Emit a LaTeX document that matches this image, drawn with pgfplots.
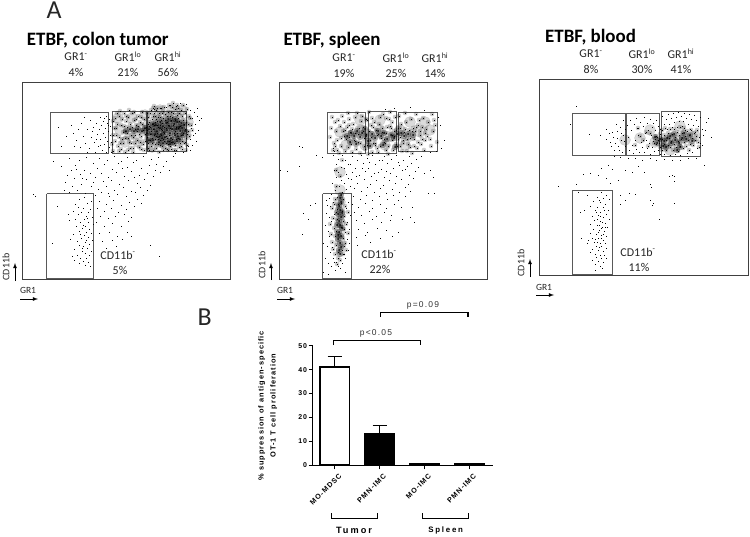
\documentclass[border=0pt]{standalone}
\usepackage{pgfplots}
\pgfplotsset{compat=1.18}
\usepackage{fontspec}
\setmainfont{Carlito}
\newfontfamily\barf[LetterSpace=14]{Liberation Sans}
\newfontfamily\barw[LetterSpace=22]{Liberation Sans}
\newcommand\fs[1]{\fontsize{#1}{#1}\selectfont}
\pgfdeclareplotmark{midblob}{\pgfsetfillopacity{0.2}\pgfpathcircle{\pgfpointorigin}{2.3bp}\pgfusepathqfill
 \pgfsetfillopacity{1}\pgfpathrectangle{\pgfpoint{-0.35bp}{-0.35bp}}{\pgfpoint{0.7bp}{0.7bp}}\pgfusepathqfill}
\pgfdeclareplotmark{coreblob}{\pgfsetfillopacity{0.35}\pgfpathcircle{\pgfpointorigin}{3.2bp}\pgfusepathqfill
 \pgfsetfillopacity{1}\pgfpathcircle{\pgfpointorigin}{1bp}\pgfusepathqfill}
\pgfplotsset{
 flow/.style={scale only axis,y dir=reverse,axis line style={draw=black!75,line width=0.9bp},
   xtick=\empty,ytick=\empty,clip=true},
 gate/.style={draw=black!65,line width=0.9bp,no marks,forget plot,sharp plot},
 dots/.style={only marks,mark=square*,mark size=0.3bp,mark options={draw=none,fill=black},forget plot},
 midd/.style={only marks,mark=midblob,mark options={draw=none,fill=black},forget plot},
 core/.style={only marks,mark=coreblob,mark options={draw=none,fill=black},forget plot},
 halo/.style={only marks,mark=*,mark size=5.5bp,mark options={draw=none,fill=black,opacity=0.14},forget plot}
}
\tikzset{lbl/.style={inner sep=0pt,text=black!85,font=\fs{12}}}
\begin{document}
\begin{tikzpicture}[x=1bp,y=-1bp]
\useasboundingbox (0,0) rectangle (750,537);
% panel 1
\begin{axis}[flow,anchor=north west,at={(22.7,82)},width=207.6bp,height=197bp,xmin=22.7,xmax=230.3,ymin=82,ymax=279]
\addplot[halo] coordinates {(120,130)(130,135)(140,128)(125,142)(138,142)(148,125)(150,138)(158,120)(160,132)(168,118)(170,130)(178,118)(180,130)(188,122)(162,143)(175,141)(152,147)(186,135)(118,118)(132,118)(145,115)(172,110)(160,110)(182,110)(155,128)(165,125)(175,125)};
\addplot[dots] coordinates {(84,197)(79,199)(91,201)(75,204)(87,203)(83,208)(90,209)(73,211)(81,212)(86,216)(78,214)(92,217)(84,219)(69,220)(88,222)(80,222)(93,224)(76,226)(85,226)(82,228)(89,229)(91,233)(86,232)(79,231)(73,234)(84,235)(88,237)(81,238)(92,240)(77,241)(85,242)(89,244)(83,246)(79,245)(87,248)(74,249)(91,251)(82,251)(85,253)(89,255)(77,255)(80,258)(86,258)(83,261)(74,260)(88,262)(79,263)(85,265)(90,266)(57,206)(33,194)(35,196)(52,243)(68,214)(70,239)(72,256)(75,219)(88,212)(83,225)(87,218)(80,234)(86,240)(82,248)(78,207)
(53,161)(61,166)(69,158)(79,160)(86,157)(93,163)(99,158)(107,160)(114,156)(121,161)(127,157)(136,160)(143,156)(151,159)(158,157)(166,161)(173,156)(75,165)(84,170)(97,168)(104,164)(112,169)(118,163)(127,167)(133,162)(141,168)(149,165)(155,170)(163,166)(169,170)(71,170)(80,174)(90,173)(101,173)(108,177)(116,172)(124,176)(131,171)(139,175)(147,173)(153,176)(160,172)(67,175)(74,178)(86,179)(95,177)(103,181)(111,180)(119,184)(128,180)(137,183)(144,179)(150,185)(65,182)(72,186)(81,184)(91,186)(98,189)(106,186)(114,190)(123,187)(131,191)(140,187)(147,190)(69,192)(77,190)(85,193)(95,195)(101,192)(109,196)(117,194)(126,196)(135,192)(143,195)(99,201)(106,204)(113,200)(121,205)(129,202)(137,199)(97,208)(104,211)(111,208)(118,212)(126,209)(134,206)(141,203)(100,216)(108,218)(115,216)(124,214)(131,217)(96,222)(104,226)(112,223)(121,226)(128,221)(99,233)(109,232)(117,236)(127,232)(102,241)(112,240)(122,239)(131,236)(106,248)(116,246)(159,256)(150,245)(76,169)(122,168)(156,164)(93,182)(108,193)(134,177)(82,178)(64,190)
(58,127)(61,146)(71,125)(73,133)(76,140)(78,129)(81,123)(83,136)(85,143)(87,129)(89,148)(90,120)(91,137)(93,127)(94,142)(95,152)(96,123)(97,134)(98,146)(99,129)(100,117)(100,139)(101,125)(102,150)(103,133)(103,121)(104,144)(105,128)(105,137)(106,116)(106,152)(107,123)(107,141)(108,131)(109,147)(109,119)(110,126)(110,135)(111,142)(111,152)(80,147)(74,146)(66,136)(92,131)(87,152)(84,117)(96,139)(100,145)(104,118)(108,125)
(190,110)(191,128)(192,118)(193,135)(194,112)(195,124)(196,141)(197,116)(198,130)(199,120)(188,146)(190,139)(186,104)(180,103)(176,106)(170,105)(166,107)(160,108)(154,109)(192,145)(195,133)(197,108)(201,118)(190,150)(183,152)(175,153)};
\addplot[midd] coordinates {(113,121)(116,135)(112,144)(119,116)(114,128)(121,149)(117,124)(123,132)(115,141)(120,111)(125,138)(118,146)(122,119)(127,127)(113,151)(124,113)(129,142)(126,121)(116,128)(131,135)(119,137)(128,117)(133,148)(123,143)(130,124)(135,129)(125,152)(132,113)(137,140)(127,133)(134,120)(139,147)(129,110)(136,125)(141,136)(131,143)(138,116)(143,130)(133,152)(140,122)(145,141)(135,135)(142,112)(128,150)(144,119)(137,131)(121,125)(141,149)(146,127)(132,127)(117,113)(139,134)(143,144)(126,116)(135,143)(122,139)(145,134)(130,148)(138,126)(115,118)(141,117)(124,126)(134,112)(119,151)(144,150)(128,138)(136,119)(113,135)(140,142)(125,131)(133,137)(120,143)(142,124)
(147,113)(152,138)(149,122)(156,148)(151,110)(158,127)(148,143)(155,116)(161,135)(153,129)(159,152)(150,134)(163,111)(157,121)(166,143)(154,106)(168,125)(147,130)(160,117)(171,149)(164,133)(152,119)(175,109)(167,138)(158,144)(172,117)(149,150)(178,128)(162,123)(169,105)(155,139)(182,141)(174,133)(165,114)(151,146)(179,121)(170,146)(161,108)(185,113)(176,150)(148,117)(181,135)(166,128)(157,133)(173,125)(187,145)(163,150)(184,124)(154,125)(177,115)(159,113)(188,131)(168,112)(150,127)(174,143)(183,105)(164,141)(156,110)(179,147)(171,120)(186,138)(160,140)(153,150)(176,127)(190,118)(167,149)(147,137)(182,116)(162,130)(173,103)(155,122)(185,129)(169,135)(150,113)(178,138)(158,117)(188,124)(165,120)(152,143)(175,145)(181,110)(163,139)(149,126)(171,112)(186,150)(160,125)(177,133)(156,136)(184,143)(167,116)(172,139)(154,113)(180,126)(162,146)(189,136)(151,131)(168,144)(157,108)(175,120)(164,127)(182,149)(159,136)(187,109)(170,128)(153,116)(178,108)(161,120)(174,150)(166,136)(148,148)(183,133)(155,144)(172,107)(179,113)(163,118)(186,122)(169,141)(157,125)(176,139)(152,124)(181,146)(165,148)(191,125)(160,145)(173,113)(150,140)(185,142)(167,122)(158,139)(177,105)(154,135)(170,116)(183,120)(162,113)(175,131)(189,116)(164,107)(148,124)(180,143)(156,119)(171,142)(153,108)(187,134)(168,150)(161,129)(178,118)(192,130)};
\addplot[core] coordinates {(151,134)(154,129)(153,140)(157,131)(158,137)(156,125)(160,128)(161,134)(159,142)(163,126)(164,132)(162,138)(166,123)(165,137)(167,130)(168,141)(169,126)(170,133)(171,121)(172,129)(171,138)(174,124)(175,135)(173,142)(176,129)(177,122)(178,136)(179,127)(180,131)(181,123)(180,139)(182,128)(183,135)(184,125)(147,133)(149,129)(145,128)(142,131)(138,129)(134,131)(149,140)(155,134)(163,143)(175,119)(168,119)(160,122)(170,144)(177,141)(153,124)(185,131)(126,131)(130,129)};
\addplot[gate] coordinates {(50.7,112.3)(108,112.3)(108,153.3)(50.7,153.3)(50.7,112.3)};
\addplot[gate] coordinates {(112,111)(146,111)(146,153)(112,153)(112,111)};
\addplot[gate] coordinates {(147,111)(186.7,111)(186.7,151)(147,151)(147,111)};
\addplot[gate] coordinates {(46.7,193.7)(93.7,193.7)(93.7,278)(46.7,278)(46.7,193.7)};
\end{axis}
% panel 2
\begin{axis}[flow,anchor=north west,at={(279,82.3)},width=208.7bp,height=196.7bp,xmin=279,xmax=487.7,ymin=82.3,ymax=279]
\addplot[halo] coordinates {(340,132)(350,136)(360,130)(370,136)(380,130)(390,136)(400,130)(410,136)(420,132)(430,130)(346,145)(365,145)(385,145)(405,145)(360,120)(380,120)(410,122)(425,122)(340,202)(340,212)(340,222)(340,232)(340,242)(340,190)(340,172)};
\addplot[dots] coordinates {(299,146)(302,147)(316,155)(322,157)(299,166)(280,170)(287,171)(310,205)(315,203)(303,213)(308,219)(302,234)(326,213)(329,217)(325,225)(328,231)(323,243)(327,246)(330,252)(325,258)(328,263)(333,258)(331,266)(336,262)(342,263)(345,258)(348,250)(347,239)(349,229)(350,215)(346,208)(326,200)(330,206)(323,272)(335,270)(340,268)(328,274)(345,272)(331,221)(329,236)(332,247)(334,214)(347,222)(345,232)(349,243)(344,254)(334,262)(338,266)(327,205)(333,202)(348,202)(329,198)
(333,155)(338,159)(342,155)(336,164)(341,167)(345,160)(334,170)(338,172)(344,168)(348,164)(336,177)(341,180)(346,174)(332,183)(339,186)(344,183)(348,178)(335,190)(342,192)(346,189)(350,186)(331,194)(337,197)(352,156)(357,160)(361,155)(367,158)(372,155)(379,160)(384,156)(391,159)(396,155)(403,160)(409,156)(416,159)(421,156)(350,164)(355,168)(363,163)(368,168)(375,164)(381,169)(387,163)(393,168)(399,165)(405,169)(411,163)(418,167)(352,172)(359,175)(365,171)(371,176)(378,172)(384,177)(390,173)(396,176)(402,170)(409,175)(415,171)(424,173)(351,179)(357,183)(364,179)(370,184)(376,180)(383,185)(389,180)(395,183)(401,179)(408,184)(413,178)(354,188)(361,191)(367,187)(374,192)(380,188)(386,193)(392,189)(399,192)(405,187)(410,191)(430,170)(433,177)(353,196)(360,199)(366,195)(372,200)(379,196)(387,199)(393,195)(398,200)(405,196)(352,204)(358,207)(365,203)(372,208)(380,204)(386,208)(394,204)(401,207)(354,212)(361,215)(369,211)(376,216)(384,212)(391,215)(356,220)(364,223)(372,219)(381,222)(390,220)(402,219)(414,222)(358,229)(367,232)(377,228)(386,230)(398,232)(428,193)(434,193)(412,207)(356,237)(365,235)(380,238)(392,236)(410,217)(357,245)(370,242)(333,148)(334,151)(430,152)(436,151)(441,148)(444,140)(440,125)(438,117)(394,108)(385,109)(410,107)(424,110)(362,168)(374,173)(386,171)(398,162)(356,176)(369,162)(382,160)(407,166)};
\addplot[midd] coordinates {(331,128)(334,143)(330,137)(338,120)(333,150)(336,131)(341,146)(335,122)(344,136)(339,153)(342,116)(347,127)(337,140)(345,151)(349,119)(343,131)(351,144)(348,113)(353,124)(346,139)(356,149)(340,126)(355,117)(350,132)(358,142)(352,152)(361,121)(357,113)(364,146)(359,128)(366,134)(354,140)(368,154)(362,116)(371,125)(365,149)(373,143)(369,112)(376,130)(367,120)(378,152)(372,118)(381,138)(375,145)(383,114)(379,124)(386,150)(382,132)(389,119)(385,143)(391,128)(388,154)(394,136)(390,112)(397,146)(392,122)(400,128)(395,117)(402,151)(398,139)(405,113)(401,124)(408,144)(404,132)(411,119)(407,151)(413,128)(410,138)(416,114)(414,146)(418,125)(420,135)(423,118)(421,144)(426,129)(424,150)(428,122)(430,139)(432,114)(433,131)(435,125)(437,142)(427,136)(431,146)(419,120)(415,131)(412,153)(406,122)(403,140)(399,116)(396,130)(393,150)(387,127)(384,139)(380,117)(377,148)(374,122)(370,140)(363,131)(360,153)(348,147)(344,122)(337,150)(332,117)(422,127)(434,120)(425,140)(417,148)(409,130)(400,146)(392,135)(386,118)(378,134)(372,152)(366,119)(355,133)(349,125)(341,138)(335,146)
(345,130)(349,137)(352,129)(355,141)(358,134)(360,143)(363,127)(364,138)(367,145)(369,131)(371,137)(373,127)(375,143)(377,135)(380,146)(382,128)(384,142)(386,133)(388,146)(390,126)(392,140)(394,131)(396,144)(398,128)(400,137)(403,143)(405,129)(407,139)(410,147)(412,131)(414,139)(416,127)(418,142)(420,131)(422,139)(425,133)
(335,199)(338,204)(343,199)(332,208)(336,212)(345,206)(333,218)(344,216)(348,212)(330,224)(346,224)(331,234)(348,233)(332,242)(345,243)(333,249)(346,250)(335,254)(343,254)(338,258)(340,260)(337,264)(342,250)(334,228)(336,186)(340,176)(342,160)(336,170)(337,209)(343,221)(335,236)(344,229)(336,245)(343,238)(338,252)(334,204)(342,211)(337,219)(341,227)(336,231)(344,246)(341,203)};
\addplot[core] coordinates {(347,136)(351,133)(354,136)(357,131)(360,137)(362,133)(366,136)(368,141)(372,134)(375,138)(378,131)(381,136)(384,133)(387,139)(391,135)(394,138)(397,134)(401,133)(404,136)(408,134)(413,135)(356,144)(370,146)(383,145)(395,147)(350,142)(365,129)
(340,198)(341,202)(339,206)(340,210)(338,214)(341,217)(339,221)(340,225)(342,228)(339,232)(341,236)(338,239)(340,243)(341,247)(339,250)(337,225)(342,213)(338,235)(341,195)(340,254)};
\addplot[gate] coordinates {(327.3,112.3)(365.7,112.3)(365.7,153.3)(327.3,153.3)(327.3,112.3)};
\addplot[gate] coordinates {(368.3,111)(396.7,111)(396.7,153.3)(368.3,153.3)(368.3,111)};
\addplot[gate] coordinates {(398,112.3)(437.7,112.3)(437.7,151.7)(398,151.7)(398,112.3)};
\addplot[gate] coordinates {(322.7,193.7)(351.3,193.7)(351.3,278.3)(322.7,278.3)(322.7,193.7)};
\end{axis}
% panel 3
\begin{axis}[flow,anchor=north west,at={(539.3,79)},width=209bp,height=196.7bp,xmin=539.3,xmax=748.3,ymin=79,ymax=275.7]
\addplot[halo] coordinates {(625,140)(640,138)(655,142)(665,142)(675,140)(685,138)(695,136)(650,130)(680,126)(670,150)};
\addplot[dots] coordinates {(576,106)(570,124)(589,134)(600,135)(606,129)(610,142)(612,132)(614,150)(616,124)(617,138)(618,146)(620,127)(621,133)(622,152)(623,120)(624,141)(625,129)(614,156)(620,157)(628,158)(635,158)(642,160)(650,158)(656,160)(664,159)(672,160)(680,160)(688,158)(696,158)(704,165)(672,175)(669,176)(674,176)(601,168)(608,165)(612,169)(606,178)(598,175)(590,173)(583,174)(576,184)(558,186)(610,183)(618,180)(625,170)(632,172)(638,166)(644,172)(650,184)(651,187)(650,200)(652,205)(653,203)(674,203)(674,181)(659,219)(620,195)(629,193)(635,194)(620,204)(625,200)(705,130)(708,118)(702,145)(711,137)(706,122)
(601,192)(606,195)(597,197)(603,198)(609,199)(593,201)(600,202)(605,204)(590,206)(597,207)(603,207)(608,210)(595,210)(600,212)(606,214)(580,212)(592,216)(598,215)(603,217)(609,219)(594,220)(600,221)(605,223)(590,224)(597,225)(602,227)(607,227)(593,229)(599,230)(604,231)(590,233)(596,234)(601,235)(606,236)(592,238)(598,238)(603,240)(588,240)(594,242)(600,243)(605,243)(596,246)(601,246)(606,248)(592,249)(598,250)(603,251)(590,252)(595,254)(600,255)(604,255)(596,257)(601,258)(592,260)(598,261)(603,262)(595,264)(600,266)(587,243)(581,238)(584,210)(602,268)(595,270)(606,258)(599,200)(587,195)(578,192)(597,219)(601,238)(599,247)(595,239)(602,222)(598,232)(605,227)(600,216)(603,234)(597,242)(601,228)(596,212)(604,210)(599,225)};
\addplot[dots] coordinates {(606,139)(609,133)(611,146)(613,137)(615,143)(617,131)(619,150)(621,140)(623,135)(625,146)(627,125)(628,137)(629,150)(630,120)(631,130)(632,145)(633,153)(634,124)(635,140)(636,118)(636,149)(637,128)(638,135)(639,152)(640,122)(641,142)(642,147)(643,126)(644,117)(644,152)(645,133)(646,140)(647,123)(647,148)(648,130)(649,143)(650,119)(650,154)(651,135)(652,127)(652,147)(653,123)(653,141)(654,151)(655,130)(656,144)(656,120)(657,137)(658,126)(658,150)(659,143)(660,129)(660,154)
(662,116)(664,124)(664,154)(666,119)(667,129)(668,114)(669,124)(670,155)(671,118)(672,127)(673,113)(674,122)(675,154)(676,117)(677,127)(678,112)(679,121)(680,155)(681,116)(682,126)(683,121)(684,113)(685,130)(686,118)(687,153)(688,124)(689,114)(690,129)(691,119)(692,152)(693,125)(694,115)(695,132)(696,120)(697,148)(698,126)(699,137)(700,117)(700,143)(702,129)(703,135)};
\addplot[midd] coordinates {(650,133)(655,139)(654,143)(656,136)(658,140)(660,134)(660,147)(662,130)(662,139)(662,150)(664,135)(664,144)(665,128)(666,140)(666,150)(668,133)(668,145)(669,138)(670,129)(670,147)(671,141)(672,134)(673,150)(674,129)(674,144)(675,137)(676,147)(677,132)(678,141)(678,151)(679,135)(680,127)(680,146)(681,139)(682,133)(683,148)(684,128)(684,142)(685,136)(686,146)(687,131)(688,140)(689,135)(689,150)(690,144)(691,130)(692,138)(693,145)(694,133)(695,140)(696,136)(697,130)(698,142)(699,147)(640,136)(643,140)(646,132)(648,146)(638,128)(635,145)};
\addplot[core] coordinates {(660,139)(664,141)(667,138)(671,143)(675,140)(679,143)(682,138)(686,139)(690,135)(674,134)(666,147)(680,147)(670,136)(684,133)(657,143)(692,141)(677,150)(663,146)(655,137)};
\addplot[gate] coordinates {(572,113.7)(625.7,113.7)(625.7,155.3)(572,155.3)(572,113.7)};
\addplot[gate] coordinates {(626.7,113)(659,113)(659,155.3)(626.7,155.3)(626.7,113)};
\addplot[gate] coordinates {(661.3,111.3)(700.3,111.3)(700.3,156)(661.3,156)(661.3,111.3)};
\addplot[gate] coordinates {(572,190.3)(612,190.3)(612,274.7)(572,274.7)(572,190.3)};
\end{axis}
% bars
\begin{axis}[anchor=south west,at={(311.3bp,-465.3bp)},scale only axis,width=181.4bp,height=119.6bp,
  xmin=311.3,xmax=492.7,ymin=0,ymax=50,axis x line=bottom,axis y line=none,clip=false,
  xtick={334.7,379.5,424.5,469.5},xticklabels={},
  axis line style={line width=1.5bp,-},tick style={line width=1.2bp,black},major tick length=4bp,
  tick align=outside]
\addplot[ybar,bar width=29.5bp,draw=black,fill=white,line width=1.7bp,
  error bars/.cd,y dir=plus,y explicit,error bar style={line width=1.5bp},error mark options={line width=1.5bp,mark size=7bp,rotate=90}]
  coordinates {(334.7,41) +- (0,4.5)};
\addplot[ybar,bar width=29.5bp,draw=black,fill=black,line width=1.7bp,
  error bars/.cd,y dir=plus,y explicit,error bar style={line width=1.5bp},error mark options={line width=1.5bp,mark size=7bp,rotate=90}]
  coordinates {(379.5,13) +- (0,3.7)};
\addplot[ybar,bar width=29.5bp,draw=black,fill=black,line width=1.5bp] coordinates {(424.5,0.5)(469.5,0.5)};
\end{axis}
\begin{axis}[anchor=south west,at={(312.7bp,-465.3bp)},scale only axis,width=10bp,height=119.6bp,
  xmin=0,xmax=1,ymin=0,ymax=50,axis x line=none,axis y line=left,ytick={0,10,20,30,40,50},
  axis line style={line width=1.5bp,-},tick style={line width=1.2bp,black},major tick length=4bp,
  tick align=outside,
  yticklabel style={font=\barf\bfseries\fs{7},inner sep=1.5pt},/pgf/number format/assume math mode=true]
\addplot[draw=none,forget plot] coordinates {(0,0)};
\end{axis}
% text
\node[font=\fs{26},inner sep=0pt,text=black!85] at (54,10) {A};
\node[font=\fs{26},inner sep=0pt,text=black!85] at (204.7,317) {B};
\node[font=\bfseries\fs{19},anchor=west,inner sep=0pt] at (26.7,40) {ETBF, colon tumor};
\node[font=\bfseries\fs{19},anchor=west,inner sep=0pt] at (283.3,40) {ETBF, spleen};
\node[font=\bfseries\fs{19},anchor=west,inner sep=0pt] at (545,37) {ETBF, blood};
\newcommand\pan[8]{%
 \node[lbl] at (#3,#1) {GR1\textsuperscript{-}};\node[lbl] at (#4,#1) {GR1\textsuperscript{lo}};\node[lbl] at (#5,#1) {GR1\textsuperscript{hi}};
 \node[lbl] at (#3,#2) {#6\%};\node[lbl] at (#4,#2) {#7\%};\node[lbl] at (#5,#2) {#8\%};}
\pan{57}{72}{76}{128}{168}{4}{21}{56}
\pan{58}{73}{344}{396}{435}{19}{25}{14}
\pan{54}{69}{591}{642}{681}{8}{30}{41}
\node[lbl] at (118,255) {CD11b\textsuperscript{-}};\node[lbl] at (120,270) {5\%};
\node[lbl] at (379,254) {CD11b\textsuperscript{-}};\node[lbl] at (380,269) {22\%};
\node[lbl] at (638,252) {CD11b\textsuperscript{-}};\node[lbl] at (639,267) {11\%};
\newcommand\ax[7]{%
 \node[lbl,font=\fs{10},rotate=90] at (#1,#2) {CD11b};
 \draw[-latex,line width=0.8bp] (#3,#4) -- (#3,#5);
 \node[lbl,font=\fs{9.5}] at (#6,#7) {GR1};}
\ax{6}{267}{15}{281}{263}{28}{290}\draw[-latex,line width=0.8bp] (20,299)--(38,299);
\ax{262}{265}{271}{280}{263}{285}{290}\draw[-latex,line width=0.8bp] (277,299)--(295,299);
\ax{521}{263}{530}{277}{259}{544}{287}\draw[-latex,line width=0.8bp] (536,295)--(554,295);
% bar annotations
\tikzset{bt/.style={inner sep=0pt,font=\barf\fs{8.5},text=black!80}}
\node[bt] at (376,333) {p<0.05};\node[bt] at (423,305) {p=0.09};
\draw[line width=1.5bp] (333.7,345)--(333.7,340.7)--(420.7,340.7)--(420.7,345);
\draw[line width=1.5bp] (380.7,316.7)--(380.7,312.7)--(468,312.7)--(468,316.7);
\node[inner sep=0pt,font=\barf\bfseries\fs{7.4},rotate=90] at (261.7,405.7) {\% suppression of antigen-specific};
\node[inner sep=0pt,font=\barf\bfseries\fs{7.4},rotate=90] at (273.7,405.7) {OT-1 T cell proliferation};
\foreach \x/\t in {338.5/MO-MDSC,383/PMN-IMC,428/MO-IMC,473/PMN-IMC}
 \node[inner sep=0pt,font=\barf\bfseries\fs{7.2},rotate=45,anchor=north east] at (\x,473) {\t};
\draw[line width=1.4bp] (331.7,513.3)--(331.7,518.7)--(377.7,518.7)--(377.7,513.3);
\draw[line width=1.4bp] (422.3,513.3)--(422.3,518.7)--(468.7,518.7)--(468.7,513.3);
\node[inner sep=0pt,font=\barw\bfseries\fs{9.2}] at (354,530.7) {Tumor};
\node[inner sep=0pt,font=\barw\bfseries\fs{7.9}] at (445.7,530.7) {Spleen};
\end{tikzpicture}
\end{document}
